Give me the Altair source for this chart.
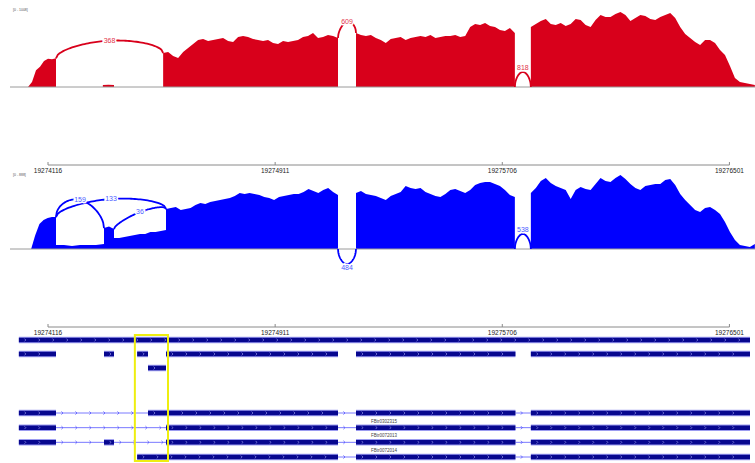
import altair as alt
import numpy as np
import pandas as pd

# Genomic window (bp) spread over the 755 px wide view, 3.5 bp per pixel
WINDOW = [19273948, 19276590.5]

ruler_ticks = [19274116, 19274911, 19275706, 19276501]

# ---------------- RNA-seq coverage, sample 1 (red) ----------------
red_max = 1008
red_range_label = "[0 - 1008]"
red_blocks = [(19274046, 19274144), (19274308, 19274347), (19274519, 19275131),
              (19275194, 19275750), (19275806, 19276590)]
red_cov_1 = [0, 65, 220, 265, 340, 370, 362, 375]
red_cov_2 = [26, 28, 26]
red_cov_3 = [445, 458, 406, 380, 458, 511, 563, 615, 628, 602, 615, 628, 641, 602, 589, 655, 668, 655,
             628, 615, 602, 615, 576, 563, 602, 589, 602, 615, 655, 668, 707, 641, 655, 681, 668, 641]
red_cov_4 = [707, 681, 668, 681, 641, 615, 576, 628, 641, 655, 615, 641, 655, 668, 655, 681, 641, 655,
             668, 668, 681, 655, 668, 785, 825, 812, 838, 798, 785, 746, 733, 772, 707]
red_cov_5 = [785, 825, 864, 890, 825, 812, 838, 798, 825, 890, 877, 812, 785, 877, 942, 916, 916, 956,
             982, 942, 864, 903, 942, 929, 890, 877, 916, 942, 969, 903, 785, 694, 641, 589, 550, 615,
             615, 576, 484, 419, 275, 118, 65, 52, 39, 26]
red_cov = [red_cov_1, red_cov_2, red_cov_3, red_cov_4, red_cov_5]

red_junction_start = [19274144, 19275131, 19275750]
red_junction_end = [19274519, 19275194, 19275806]
red_junction_reads = [368, 609, 818]

# ---------------- RNA-seq coverage, sample 2 (blue) ----------------
blue_max = 888
blue_range_label = "[0 - 888]"
blue_blocks = [(19274057, 19274144), (19274144, 19274312), (19274312, 19274347), (19274347, 19274529),
               (19274529, 19275131), (19275194, 19275750), (19275806, 19276590)]
blue_cov_1 = [0, 161, 288, 334, 357, 369, 369]
blue_cov_2 = [46, 46, 35, 46, 46, 46, 58]
blue_cov_3 = [242, 260, 230]
blue_cov_4 = [127, 127, 138, 150, 161, 173, 173, 196, 196, 208, 219]
blue_cov_5 = [461, 473, 484, 450, 461, 473, 507, 530, 519, 542, 553, 565, 577, 588, 611, 646, 634, 646,
              634, 623, 600, 588, 565, 600, 611, 623, 634, 634, 657, 692, 669, 646, 680, 703, 657, 623]
blue_cov_6 = [646, 669, 634, 623, 611, 588, 565, 611, 634, 657, 726, 703, 692, 703, 657, 634, 611, 600,
              634, 680, 692, 669, 646, 680, 738, 761, 773, 773, 749, 726, 680, 623, 600]
blue_cov_7 = [646, 703, 784, 819, 761, 726, 703, 680, 577, 680, 715, 692, 680, 749, 819, 784, 773, 819,
              853, 807, 749, 703, 680, 726, 738, 749, 749, 796, 807, 738, 634, 565, 507, 450, 427, 473,
              484, 450, 404, 311, 196, 104, 46, 35, 23, 58]
blue_cov = [blue_cov_1, blue_cov_2, blue_cov_3, blue_cov_4, blue_cov_5, blue_cov_6, blue_cov_7]

blue_junction_start = [19274144, 19274144, 19274347, 19275131, 19275750]
blue_junction_end = [19274312, 19274529, 19274529, 19275194, 19275806]
blue_junction_reads = [159, 133, 36, 484, 538]

# Arc drawing: apex lift (read units) and whether the arc springs from the baseline
red_arc_lift = [196, 177, 196]
red_arc_from_baseline = [False, False, True]
blue_arc_lift = [260, 161, 80, -173, 173]
blue_arc_from_baseline = [False, False, False, True, True]

# ---------------- Gene models ----------------
feature_exons = [
    [(19274014, 19276573)],
    [(19274014, 19274144), (19274312, 19274347), (19274428, 19274466), (19274529, 19275131),
     (19275194, 19275752), (19275806, 19276573)],
    [(19274466, 19274529)],
]
transcript_exons = [
    [(19274014, 19274144), (19274466, 19275131), (19275194, 19275752), (19275806, 19276573)],
    [(19274014, 19274144), (19274529, 19275131), (19275194, 19275752), (19275806, 19276573)],
    [(19274014, 19274144), (19274312, 19274347), (19274529, 19275131), (19275194, 19275752),
     (19275806, 19276573)],
    [(19274428, 19275131), (19275194, 19275752), (19275806, 19276573)],
]
transcript_names = ["", "FBtr0302315", "FBtr0072013", "FBtr0072014"]
transcript_label_pos = 19275292
highlight_region = (19274420, 19274536)

RED = "#d8001b"
BLUE = "#0000ff"
GREY = "#9a9a9a"
NAVY = "#07078f"

x_scale = alt.Scale(domain=WINDOW, nice=False, zero=False)
red_y = alt.Scale(domain=[0, red_max], range=[87, 10], nice=False, zero=False)
blue_y = alt.Scale(domain=[0, blue_max], range=[249, 172], nice=False, zero=False)
feat_y = alt.Scale(domain=[0, 2], range=[340, 368], nice=False, zero=False)
tx_y = alt.Scale(domain=[0, 3], range=[413, 457], nice=False, zero=False)


def X(field):
    return alt.X(field, type="quantitative", scale=x_scale, axis=None)


def coverage_frame(blocks, values):
    rows = []
    for b, ((s, e), vals) in enumerate(zip(blocks, values)):
        for p, v in zip(np.linspace(s, e, len(vals)), vals):
            rows.append({"block": b, "pos": float(p), "reads": v})
    return pd.DataFrame(rows)


def value_at(blocks, values, pos, side):
    # coverage where an arc meets a block: end of the donor block or start of the acceptor block
    for (s, e), vals in zip(blocks, values):
        if side == "end" and e == pos:
            return vals[-1]
        if side == "start" and s == pos:
            return vals[0]
    return 0


def arc_frames(starts, ends, reads, lifts, from_base, blocks, values):
    pts, labels = [], []
    t = np.linspace(0, 1, 61)
    for j, (s, e, n, lift, fb) in enumerate(zip(starts, ends, reads, lifts, from_base)):
        a = 0 if fb else value_at(blocks, values, s, "end")
        b = 0 if fb else value_at(blocks, values, e, "start")
        ys = a * (1 - t) + b * t + lift * np.sqrt(np.sin(np.pi * t))
        xs = s + (e - s) * t
        for i, (xx, yy) in enumerate(zip(xs, ys)):
            pts.append({"arc": j, "i": i, "pos": float(xx), "y": float(yy)})
        labels.append({"pos": (s + e) / 2, "y": (a + b) / 2 + lift, "reads": str(n),
                       "kind": ("below" if lift < 0 else "base") if fb else "cov"})
    return pd.DataFrame(pts), pd.DataFrame(labels)


def sashimi_layers(blocks, values, starts, ends, reads, lifts, from_base, yscale, color, label_color,
                   range_label, range_label_y):
    cov = coverage_frame(blocks, values)
    arcs, labels = arc_frames(starts, ends, reads, lifts, from_base, blocks, values)
    area = alt.Chart(cov).mark_area(color=color, interpolate="linear").encode(
        x=X("pos"), y=alt.Y("reads:Q", scale=yscale, axis=None, stack=None), detail="block:N")
    base = alt.Chart(pd.DataFrame({"v": [0]})).mark_rule(color=GREY, strokeWidth=1).encode(
        x=alt.value(10), x2=alt.value(755), y=alt.Y("v:Q", scale=yscale, axis=None))
    arc = alt.Chart(arcs).mark_line(color=color, strokeWidth=1.8, interpolate="linear").encode(
        x=X("pos"), y=alt.Y("y:Q", scale=yscale, axis=None), detail="arc:N", order="i:Q")
    layers = [area, base, arc]
    for kind, dy in (("cov", 0), ("base", -4), ("below", 4)):
        sub = labels[labels["kind"] == kind]
        if sub.empty:
            continue
        enc = dict(x=X("pos"), y=alt.Y("y:Q", scale=yscale, axis=None), text="reads:N")
        layers.append(alt.Chart(sub).mark_text(fontSize=7, font="Liberation Sans", dy=dy, color="white",
                                               stroke="white", strokeWidth=3).encode(**enc))
        layers.append(alt.Chart(sub).mark_text(fontSize=7, font="Liberation Sans", dy=dy,
                                               color=label_color).encode(**enc))
    layers.append(alt.Chart(pd.DataFrame({"t": [range_label]})).mark_text(
        fontSize=3.5, font="Liberation Sans", align="left", color="#555").encode(
        x=alt.value(13), y=alt.value(range_label_y), text="t:N"))
    return layers


def ruler_layers(y_line, y_label):
    tick_df = pd.DataFrame({"pos": ruler_ticks, "label": [str(v) for v in ruler_ticks]})
    span = pd.DataFrame({"a": [ruler_ticks[0]], "b": [ruler_ticks[-1]]})
    line = alt.Chart(span).mark_rule(color="#8a8a8a", strokeWidth=1).encode(
        x=X("a"), x2="b:Q", y=alt.value(y_line))
    ticks = alt.Chart(tick_df).mark_rule(color="#8a8a8a", strokeWidth=1).encode(
        x=X("pos"), y=alt.value(y_line - 3), y2=alt.value(y_line))
    text = alt.Chart(tick_df).mark_text(fontSize=6.5, font="Liberation Sans", color="#222").encode(
        x=X("pos"), y=alt.value(y_label), text="label:N")
    return [line, ticks, text]


def gene_layers(exon_lists, yscale, names=None, connect=True):
    # connect=False draws the blocks of each lane on their own, without intron lines
    ex, intr, chev_ex, chev_in = [], [], [], []
    for lane, exons in enumerate(exon_lists):
        for s, e in exons:
            ex.append({"lane": lane, "s": s, "e": e})
            for p in np.arange(s + 24.5, e - 8, 49):
                chev_ex.append({"lane": lane, "pos": float(p)})
        if not connect:
            continue
        for (s0, e0), (s1, e1) in zip(exons[:-1], exons[1:]):
            intr.append({"lane": lane, "s": e0, "e": s1})
            for p in np.arange(e0 + 24.5, s1 - 8, 49):
                chev_in.append({"lane": lane, "pos": float(p)})
    ex = pd.DataFrame(ex)
    Y = alt.Y("lane:Q", scale=yscale, axis=None)
    layers = []
    if intr:
        layers.append(alt.Chart(pd.DataFrame(intr)).mark_rule(color="#7a7aff", strokeWidth=1).encode(
            x=X("s"), x2="e:Q", y=Y))
    if chev_in:
        layers.append(alt.Chart(pd.DataFrame(chev_in)).mark_point(
            shape="M-1,-1L0,0L-1,1", size=10, filled=False, color="#4a4aff", strokeWidth=1).encode(
            x=X("pos"), y=Y))
    layers.append(alt.Chart(ex).mark_rule(color="#9c9cf0", strokeWidth=6.5, strokeCap="butt").encode(
        x=X("s"), x2="e:Q", y=Y))
    layers.append(alt.Chart(ex).mark_rule(color=NAVY, strokeWidth=4.5, strokeCap="butt").encode(
        x=X("s"), x2="e:Q", y=Y))
    layers.append(alt.Chart(pd.DataFrame(chev_ex)).mark_point(
        shape="M-1,-1L0,0L-1,1", size=8, filled=False, color="#b8b8ff", strokeWidth=0.8).encode(
        x=X("pos"), y=Y))
    if names is not None:
        nd = pd.DataFrame({"lane": list(range(len(names))), "name": names,
                           "pos": [transcript_label_pos] * len(names)})
        nd = nd[nd["name"] != ""]
        layers.append(alt.Chart(nd).mark_text(fontSize=4.5, font="Liberation Sans", color="#444",
                                              dy=-6).encode(x=X("pos"), y=Y, text="name:N"))
    return layers


layers = []
layers += sashimi_layers(red_blocks, red_cov, red_junction_start, red_junction_end, red_junction_reads,
                         red_arc_lift, red_arc_from_baseline, red_y, RED, "#e2344a", red_range_label, 10)
layers += ruler_layers(165, 171)
layers += sashimi_layers(blue_blocks, blue_cov, blue_junction_start, blue_junction_end, blue_junction_reads,
                         blue_arc_lift, blue_arc_from_baseline, blue_y, BLUE, "#4d5cff", blue_range_label, 175)
layers += ruler_layers(327, 333)
layers += gene_layers(feature_exons, feat_y, connect=False)
layers += gene_layers(transcript_exons, tx_y, transcript_names)

box = pd.DataFrame({"s": [highlight_region[0]], "e": [highlight_region[1]]})
layers.append(alt.Chart(box).mark_rect(fillOpacity=0, stroke="#eeee10", strokeWidth=2).encode(
    x=X("s"), x2="e:Q", y=alt.value(335), y2=alt.value(461)))

chart = alt.layer(*layers).resolve_scale(y="independent").properties(
    width=755, height=463, padding=0, autosize=alt.AutoSizeParams(type="none"), background="white"
).configure_view(strokeWidth=0)

chart.save("out.html", embed_options={"renderer": "svg", "actions": False})
